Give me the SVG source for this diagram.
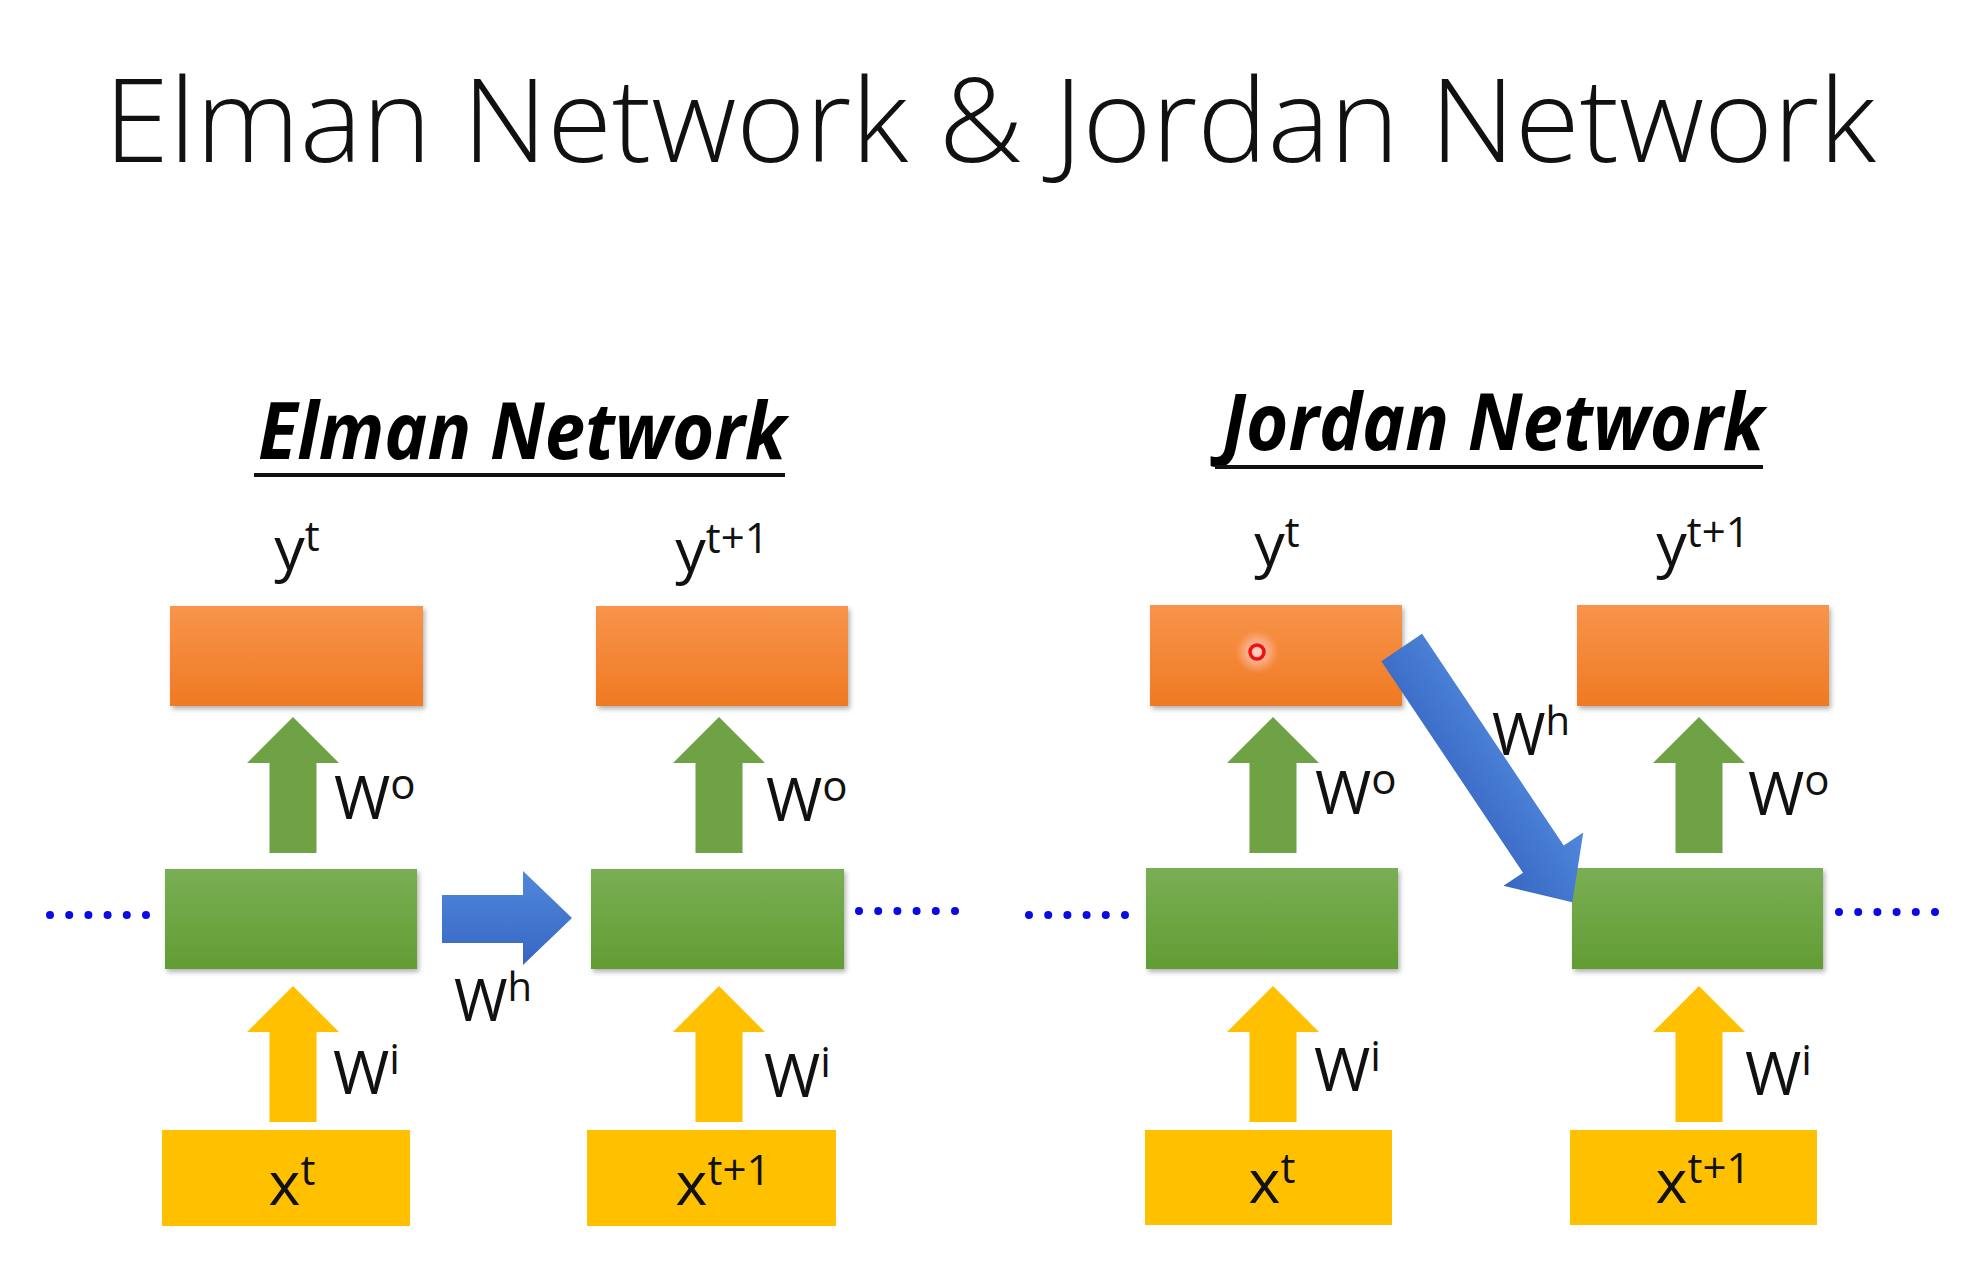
<svg xmlns="http://www.w3.org/2000/svg" width="1988" height="1283" viewBox="0 0 1988 1283">
  <defs>
    <linearGradient id="gOrange" x1="0" y1="0" x2="0" y2="1">
      <stop offset="0" stop-color="#F8944C"/>
      <stop offset="1" stop-color="#EF7A22"/>
    </linearGradient>
    <linearGradient id="gGreen" x1="0" y1="0" x2="0" y2="1">
      <stop offset="0" stop-color="#7AAE55"/>
      <stop offset="1" stop-color="#629D33"/>
    </linearGradient>
    <linearGradient id="gBlue" x1="0" y1="0" x2="0" y2="1">
      <stop offset="0" stop-color="#5088DC"/>
      <stop offset="1" stop-color="#3766C2"/>
    </linearGradient>
    <radialGradient id="gGlow">
      <stop offset="0" stop-color="#FFE0E0" stop-opacity="0.9"/>
      <stop offset="0.6" stop-color="#FFC0B0" stop-opacity="0.5"/>
      <stop offset="1" stop-color="#FFB090" stop-opacity="0"/>
    </radialGradient>
    <filter id="shadow" x="-10%" y="-10%" width="125%" height="135%">
      <feDropShadow dx="2" dy="3" stdDeviation="2.5" flood-color="#000" flood-opacity="0.3"/>
    </filter>
    <polygon id="upArrow" points="0,0 46,46 23.5,46 23.5,136 -23.5,136 -23.5,46 -46,46"/>
  </defs>
  <style>
    .orange { fill: url(#gOrange); filter: url(#shadow); }
    .green { fill: url(#gGreen); filter: url(#shadow); }
    .yellow { fill: #FFC000; }
    .garrow { fill: #6FA245; }
    .yarrow { fill: #FFC000; }
    .barrow { fill: url(#gBlue); }
    .lbl { font-family: "Open Sans", "Liberation Sans", sans-serif; font-size: 61px; fill: #111; }
    .wl { font-family: "Open Sans", "Liberation Sans", sans-serif; font-size: 61px; fill: #111; }
    .sup { font-size: 42px; }
    .title { font-family: "Open Sans", "Liberation Sans", sans-serif; font-weight: 300; font-size: 117px; fill: #111; }
    .sub { font-family: "Open Sans", "Liberation Sans", sans-serif; font-weight: 700; font-style: italic; font-size: 78px; fill: #000; }
    .dots { stroke: #0A0AE6; stroke-width: 8; stroke-linecap: round; stroke-dasharray: 0 19.2; fill: none; }
  </style>
  <rect width="1988" height="1283" fill="#FFFFFF"/>

  <text class="title" x="104" y="162" textLength="1772" lengthAdjust="spacingAndGlyphs">Elman Network &amp; Jordan Network</text>

  <g id="elman-heading">
    <text class="sub" x="258" y="459" textLength="528" lengthAdjust="spacingAndGlyphs">Elman Network</text>
    <rect x="254" y="473" width="531" height="4" fill="#111"/>
  </g>
  <g id="jordan-heading">
    <text class="sub" x="1222" y="450" textLength="542" lengthAdjust="spacingAndGlyphs">Jordan Network</text>
    <rect x="1215" y="465" width="548" height="4" fill="#111"/>
  </g>

  <!-- Elman nodes -->
  <g id="elman-y-t">
    <rect class="orange" x="170" y="606" width="253" height="100"/>
    <text class="lbl" x="297" y="570" text-anchor="middle">y<tspan class="sup" dy="-19">t</tspan></text>
  </g>
  <g id="elman-y-t1">
    <rect class="orange" x="596" y="606" width="252" height="100"/>
    <text class="lbl" x="722" y="572" text-anchor="middle">y<tspan class="sup" dy="-19">t+1</tspan></text>
  </g>
  <g id="elman-h-t">
    <rect class="green" x="165" y="869" width="252" height="100"/>
  </g>
  <g id="elman-h-t1">
    <rect class="green" x="591" y="869" width="253" height="100"/>
  </g>
  <g id="elman-x-t">
    <rect class="yellow" x="162" y="1130" width="248" height="96"/>
    <text class="lbl" x="292" y="1205" text-anchor="middle">x<tspan class="sup" dy="-20">t</tspan></text>
  </g>
  <g id="elman-x-t1">
    <rect class="yellow" x="587" y="1130" width="249" height="96"/>
    <text class="lbl" x="723" y="1205" text-anchor="middle">x<tspan class="sup" dy="-20">t+1</tspan></text>
  </g>

  <!-- Jordan nodes -->
  <g id="jordan-y-t">
    <rect class="orange" x="1150" y="605" width="252" height="101"/>
    <circle cx="1257" cy="652" r="22" fill="url(#gGlow)"/>
    <circle cx="1257" cy="652" r="7" fill="none" stroke="#F01010" stroke-width="3.5"/>
    <text class="lbl" x="1277" y="566" text-anchor="middle">y<tspan class="sup" dy="-19">t</tspan></text>
  </g>
  <g id="jordan-y-t1">
    <rect class="orange" x="1577" y="605" width="252" height="101"/>
    <text class="lbl" x="1703" y="566" text-anchor="middle">y<tspan class="sup" dy="-19">t+1</tspan></text>
  </g>
  <g id="jordan-h-t">
    <rect class="green" x="1146" y="868" width="252" height="101"/>
  </g>
  <g id="jordan-h-t1">
    <rect class="green" x="1572" y="868" width="251" height="101"/>
  </g>
  <g id="jordan-x-t">
    <rect class="yellow" x="1145" y="1130" width="247" height="95"/>
    <text class="lbl" x="1272" y="1203" text-anchor="middle">x<tspan class="sup" dy="-20">t</tspan></text>
  </g>
  <g id="jordan-x-t1">
    <rect class="yellow" x="1570" y="1130" width="247" height="95"/>
    <text class="lbl" x="1703" y="1203" text-anchor="middle">x<tspan class="sup" dy="-20">t+1</tspan></text>
  </g>

  <!-- connectors -->
  <g id="connectors">
    <!-- output arrows W^o -->
    <use href="#upArrow" class="garrow" x="293" y="717"/>
    <use href="#upArrow" class="garrow" x="719" y="717"/>
    <use href="#upArrow" class="garrow" x="1273" y="717"/>
    <use href="#upArrow" class="garrow" x="1699" y="717"/>
    <!-- input arrows W^i -->
    <use href="#upArrow" class="yarrow" x="293" y="986"/>
    <use href="#upArrow" class="yarrow" x="719" y="986"/>
    <use href="#upArrow" class="yarrow" x="1273" y="986"/>
    <use href="#upArrow" class="yarrow" x="1699" y="986"/>

    <!-- Elman recurrent arrow -->
    <polygon class="barrow" points="442,895 523,895 523,871 572,918 523,965 523,943 442,943"/>
    <!-- Jordan recurrent arrow -->
    <g transform="translate(1401.7,647.5) rotate(56.2)">
      <polygon class="barrow" points="0,-24.5 254.7,-24.5 254.7,-48 306.7,0 254.7,48 254.7,24.5 0,24.5"/>
    </g>

    <!-- dotted continuations -->
    <path class="dots" d="M50,915 h96.1"/>
    <path class="dots" d="M859,911 h96.1"/>
    <path class="dots" d="M1029,915 h96.1"/>
    <path class="dots" d="M1839,912 h96.1"/>

    <!-- weight labels -->
    <text class="wl" x="334" y="819">W<tspan class="sup" dy="-20">o</tspan></text>
    <text class="wl" x="766" y="821">W<tspan class="sup" dy="-20">o</tspan></text>
    <text class="wl" x="1315" y="814">W<tspan class="sup" dy="-20">o</tspan></text>
    <text class="wl" x="1748" y="815">W<tspan class="sup" dy="-20">o</tspan></text>

    <text class="wl" x="333" y="1094">W<tspan class="sup" dy="-20">i</tspan></text>
    <text class="wl" x="764" y="1097">W<tspan class="sup" dy="-20">i</tspan></text>
    <text class="wl" x="1314" y="1091">W<tspan class="sup" dy="-20">i</tspan></text>
    <text class="wl" x="1745" y="1095">W<tspan class="sup" dy="-20">i</tspan></text>

    <text class="wl" x="454" y="1021" style="font-size:58px">W<tspan dy="-20" style="font-size:40px">h</tspan></text>
    <text class="wl" x="1492" y="755" style="font-size:58px">W<tspan dy="-20" style="font-size:40px">h</tspan></text>
  </g>
</svg>
